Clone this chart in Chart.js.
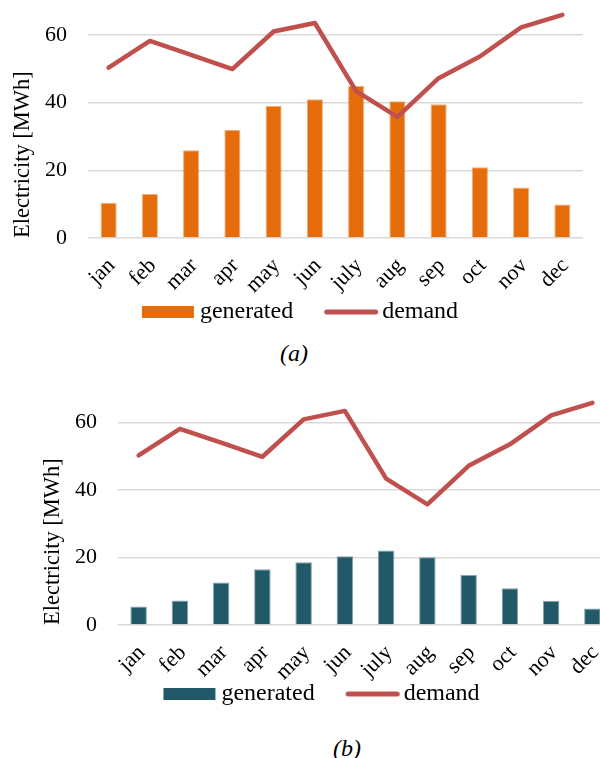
<!DOCTYPE html>
<html>
<head>
<meta charset="utf-8">
<script src="https://cdn.jsdelivr.net/npm/chart.js@4.4.1/dist/chart.umd.min.js"></script>
<style>
  html, body { margin: 0; padding: 0; background: #fff; }
  #page { position: relative; width: 600px; height: 758px; overflow: hidden; background: #fff; }
  #page canvas { position: absolute; }
  .cap { position: absolute; width: 80px; text-align: center; font: italic 24px "Liberation Serif", "Times New Roman", serif; line-height: 24px; color: #000; }
</style>
</head>
<body>
<div id="page">
  <canvas id="chartA" width="600" height="334" style="left:0px;top:0px;width:600px;height:334px"></canvas>
  <div class="cap" style="left:254px;top:341px">(a)</div>
  <canvas id="chartB" width="600" height="328" style="left:30px;top:388px;width:600px;height:328px"></canvas>
  <div class="cap" style="left:307px;top:736px">(b)</div>
</div>
<script>
// Monthly electricity: demand vs. generation for two configurations
const months = ['jan', 'feb', 'mar', 'apr', 'may', 'jun', 'july', 'aug', 'sep', 'oct', 'nov', 'dec'];
const demand = [50.3, 58.2, 54.1, 49.9, 61.0, 63.5, 43.4, 35.8, 47.2, 53.6, 62.2, 65.9];
const generatedA = [10.4, 13.0, 25.9, 31.9, 39.0, 41.0, 44.9, 40.4, 39.5, 20.9, 14.9, 9.9];
const generatedB = [5.5, 7.3, 12.6, 16.5, 18.6, 20.4, 22.1, 20.1, 14.8, 10.9, 7.2, 4.9];
const yTicks = [0, 20, 40, 60];
const yMax = 70;

const SERIF = '"Liberation Serif", "Times New Roman", serif';
Chart.defaults.font.family = SERIF;
Chart.defaults.color = '#000';

const LINE_COLOR = '#C0504D';

// Legend swatches: a wide filled bar and a thick rounded line
function barSwatch(color) {
  const c = document.createElement('canvas');
  c.width = 64; c.height = 16;
  const g = c.getContext('2d');
  g.fillStyle = color;
  g.fillRect(9, 2, 52, 12);
  return c;
}
function lineSwatch(color) {
  const c = document.createElement('canvas');
  c.width = 64; c.height = 16;
  const g = c.getContext('2d');
  g.strokeStyle = color;
  g.lineWidth = 5;
  g.lineCap = 'round';
  g.beginPath();
  g.moveTo(11.5, 8);
  g.lineTo(60.5, 8);
  g.stroke();
  return c;
}

// Rotated month labels hang below the axis box; let them draw unclipped
const unclipMonthLabels = {
  id: 'unclipMonthLabels',
  afterLayout(chart) {
    chart.scales.x._computeLabelArea = () => undefined;
  }
};

function makeChart(id, generated, barColor, barEdge, barPct, xAxisHeight, layoutRight, plotRightGap) {
  const swatches = [barSwatch(barColor), lineSwatch(LINE_COLOR)];
  return new Chart(document.getElementById(id), {
    data: {
      labels: months,
      datasets: [
        {
          type: 'bar',
          label: 'generated',
          data: generated,
          backgroundColor: barColor,
          borderColor: barEdge,
          borderWidth: 1,
          categoryPercentage: 1,
          barPercentage: barPct,
          order: 1
        },
        {
          type: 'line',
          label: 'demand',
          data: demand,
          borderColor: LINE_COLOR,
          backgroundColor: LINE_COLOR,
          borderWidth: 4.5,
          borderCapStyle: 'round',
          borderJoinStyle: 'round',
          pointRadius: 0,
          pointHoverRadius: 0,
          tension: 0,
          order: 0
        }
      ]
    },
    plugins: [unclipMonthLabels],
    options: {
      responsive: false,
      animation: false,
      devicePixelRatio: 1,
      layout: { padding: { top: 1, right: layoutRight, bottom: 0, left: 0 } },
      scales: {
        x: {
          type: 'category',
          offset: true,
          grid: { display: false, drawTicks: false },
          border: { display: false },
          ticks: {
            autoSkip: false,
            minRotation: 45,
            maxRotation: 45,
            padding: 15,
            labelOffset: 3,
            color: '#000',
            font: { size: 22, family: SERIF }
          },
          afterFit(scale) {
            scale.height = xAxisHeight;
            scale.paddingLeft = 0;
            scale.paddingRight = plotRightGap;
          }
        },
        y: {
          min: 0,
          max: yMax,
          grid: { color: '#d9d9d9', lineWidth: 1.5, drawTicks: false },
          border: { display: false },
          ticks: {
            padding: 21,
            color: '#000',
            font: { size: 22, family: SERIF }
          },
          afterBuildTicks(scale) {
            scale.ticks = yTicks.map(v => ({ value: v }));
          },
          title: {
            display: true,
            text: 'Electricity [MWh]',
            align: 'start',
            color: '#000',
            padding: { top: 10, bottom: 0 },
            font: { size: 22.5, family: SERIF }
          },
          afterFit(scale) {
            scale.width = 88;
            scale.paddingTop = 0;
            scale.paddingBottom = 0;
          }
        }
      },
      plugins: {
        tooltip: { enabled: false },
        legend: {
          position: 'bottom',
          align: 'center',
          labels: {
            usePointStyle: true,
            pointStyleWidth: 46,
            boxHeight: 12,
            padding: 31,
            color: '#000',
            font: { size: 24, family: SERIF },
            generateLabels(chart) {
              const items = Chart.defaults.plugins.legend.labels.generateLabels(chart);
              items.sort((p, q) => p.datasetIndex - q.datasetIndex);
              items.forEach(it => {
                it.pointStyle = swatches[it.datasetIndex];
                it.fontColor = '#000';
              });
              return items;
            }
          }
        }
      }
    }
  });
}

makeChart('chartA', generatedA, '#E46C0A', 'rgba(228,108,10,0.55)', 0.39, 31, 0, 17);
makeChart('chartB', generatedB, '#225968', 'rgba(34,89,104,0.55)', 0.40, 26, 17, 0);
</script>
</body>
</html>
